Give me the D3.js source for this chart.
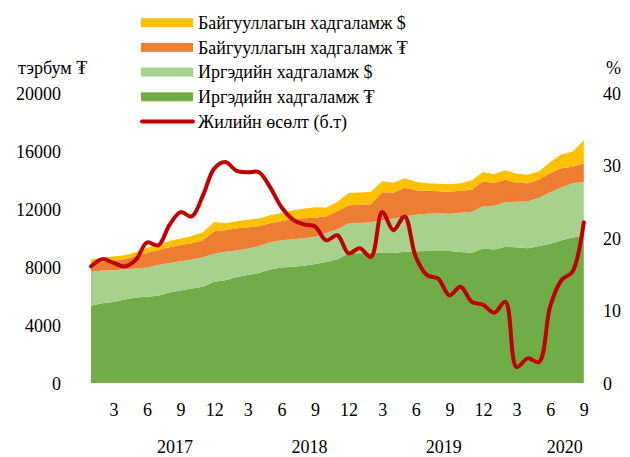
<!DOCTYPE html>
<html>
<head>
<meta charset="utf-8">
<script src="https://cdn.jsdelivr.net/npm/d3@7"></script>
<style>
  html, body { margin: 0; padding: 0; background: #ffffff; }
  svg { display: block; }
  text { font-family: "Liberation Serif", "Times New Roman", "DejaVu Serif", serif; fill: #000; }
</style>
</head>
<body>
<svg id="chart" width="630" height="457"></svg>
<script>
// ---- data (Jan 2017 .. Sep 2020, monthly) ----
const months = [1,2,3,4,5,6,7,8,9,10,11,12, 1,2,3,4,5,6,7,8,9,10,11,12, 1,2,3,4,5,6,7,8,9,10,11,12, 1,2,3,4,5,6,7,8,9];
const indMNT = [5330,5500,5590,5760,5900,5950,6030,6240,6380,6520,6640,6990,7100,7310,7450,7590,7830,7970,8030,8100,8210,8350,8550,8950,8950,8990,8970,8970,9060,9100,9120,9120,9120,9040,8990,9290,9220,9400,9380,9310,9450,9620,9860,10050,10140];
const indUSD = [2350,2260,2200,2100,2000,2020,2110,2040,2030,2000,2050,1940,1960,1830,1830,1860,1890,1890,1900,1900,1890,2000,2070,2060,2090,2110,2270,2390,2460,2520,2570,2600,2570,2720,2840,2920,3020,3080,3140,3240,3340,3550,3660,3740,3740];
const orgMNT = [600,585,625,690,860,1000,1030,1100,1110,1135,1170,1550,1490,1550,1480,1380,1315,1315,1415,1380,1315,1170,1245,1265,1270,1245,1930,1780,1965,1690,1590,1520,1520,1515,1515,1720,1555,1555,1310,1245,1245,1315,1310,1140,1275];
const orgUSD = [240,310,310,275,275,345,415,415,450,485,550,640,485,485,515,530,550,550,585,655,725,600,640,850,850,860,760,690,655,585,515,515,515,515,655,640,620,655,620,585,585,760,965,1035,1605];
const growth = [16.1,17.1,16.6,16.1,17.0,19.4,19.0,21.8,23.6,23.0,25.9,29.6,30.5,29.3,29.1,29.1,27.0,24.3,22.6,21.9,21.6,19.7,20.4,17.9,18.6,17.4,23.6,21.1,23.0,17.4,14.9,14.4,12.1,13.3,11.2,10.8,9.7,11.2,2.2,3.4,2.9,10.6,14.2,15.4,22.2];
const years = ["2017","2018","2019","2020"];
const yearCenters = [7.5, 19.5, 31.5, 42.3];   // category position of each year label
const leftTicks = [0,4000,8000,12000,16000,20000];
const rightTicks = [0,10,20,30,40];
const seriesNames = ["Иргэдийн хадгаламж ₮","Иргэдийн хадгаламж $","Байгууллагын хадгаламж ₮","Байгууллагын хадгаламж $"];
const seriesColors = ["#70AD47","#A9D18E","#ED7D31","#FFC000"];
const lineName = "Жилийн өсөлт (б.т)";
const lineColor = "#C00000";
const leftUnit = "тэрбум ₮";
const rightUnit = "%";

// ---- layout ----
const svg = d3.select("#chart");
const x0 = 91, x1 = 583.8, yTop = 93.3, yBase = 383;
const idx = d3.range(months.length);
const x = d3.scaleLinear().domain([0, months.length - 1]).range([x0, x1]);
const y = d3.scaleLinear().domain([0, 20000]).range([yBase, yTop]);
const yR = d3.scaleLinear().domain([0, 40]).range([yBase, yTop]);

const rows = idx.map(i => ({i, s0: indMNT[i], s1: indUSD[i], s2: orgMNT[i], s3: orgUSD[i]}));
const stack = d3.stack().keys(["s0","s1","s2","s3"]);
const layers = stack(rows);

const area = d3.area()
  .x(d => x(d.data.i))
  .y0(d => y(d[0]))
  .y1(d => y(d[1]));

svg.append("g").selectAll("path")
  .data(layers)
  .join("path")
  .attr("d", area)
  .attr("fill", (d, k) => seriesColors[k])
  .attr("stroke", "none");

// growth line
const line = d3.line()
  .x((d, i) => x(i))
  .y(d => yR(d))
  .curve(d3.curveCatmullRom.alpha(0.5));
svg.append("path")
  .datum(growth)
  .attr("d", line)
  .attr("fill", "none")
  .attr("stroke", lineColor)
  .attr("stroke-width", 4)
  .attr("stroke-linejoin", "round")
  .attr("stroke-linecap", "round");

// axes
const fs = 18;
const gL = svg.append("g").attr("transform", `translate(61,0)`)
  .call(d3.axisLeft(y).tickValues(leftTicks).tickSize(0).tickPadding(0).tickFormat(d3.format("d")));
const gR = svg.append("g").attr("transform", `translate(603,0)`)
  .call(d3.axisRight(yR).tickValues(rightTicks).tickSize(0).tickPadding(0).tickFormat(d3.format("d")));
const tickIdx = idx.filter(i => months[i] % 3 === 0);
const gB = svg.append("g").attr("transform", `translate(0,${yBase})`)
  .call(d3.axisBottom(x).tickValues(tickIdx).tickSize(0).tickPadding(20).tickFormat(i => months[i]));
[gL, gR, gB].forEach(g => {
  g.select(".domain").remove();
  g.selectAll("text").style("font-size", fs + "px").style("font-family", "Liberation Serif, Times New Roman, serif").attr("fill", "#000");
});
gL.selectAll("text").attr("dy", "0.34em");
gR.selectAll("text").attr("dy", "0.34em");

// year labels
svg.append("g").selectAll("text")
  .data(years)
  .join("text")
  .attr("x", (d, k) => x(yearCenters[k]))
  .attr("y", 453)
  .attr("text-anchor", "middle")
  .style("font-size", fs + "px")
  .text(d => d);

// unit labels
svg.append("text").attr("x", 18).attr("y", 74).style("font-size", fs + "px").text(leftUnit);
svg.append("text").attr("x", 606).attr("y", 74).style("font-size", fs + "px").text(rightUnit);

// legend
const legendItems = [
  {name: seriesNames[3], color: seriesColors[3], type: "rect"},
  {name: seriesNames[2], color: seriesColors[2], type: "rect"},
  {name: seriesNames[1], color: seriesColors[1], type: "rect"},
  {name: seriesNames[0], color: seriesColors[0], type: "rect"},
  {name: lineName, color: lineColor, type: "line"}
];
const lg = svg.append("g");
legendItems.forEach((it, k) => {
  const cy = 22.7 + k * 24.7;
  if (it.type === "rect") {
    lg.append("rect").attr("x", 141).attr("y", cy - 4.5).attr("width", 52).attr("height", 9).attr("fill", it.color);
  } else {
    lg.append("line").attr("x1", 142).attr("x2", 193).attr("y1", cy).attr("y2", cy)
      .attr("stroke", it.color).attr("stroke-width", 4).attr("stroke-linecap", "round");
  }
  lg.append("text").attr("x", 198).attr("y", cy).attr("dy", "0.34em")
    .style("font-size", fs + "px").text(it.name);
});
</script>
</body>
</html>
